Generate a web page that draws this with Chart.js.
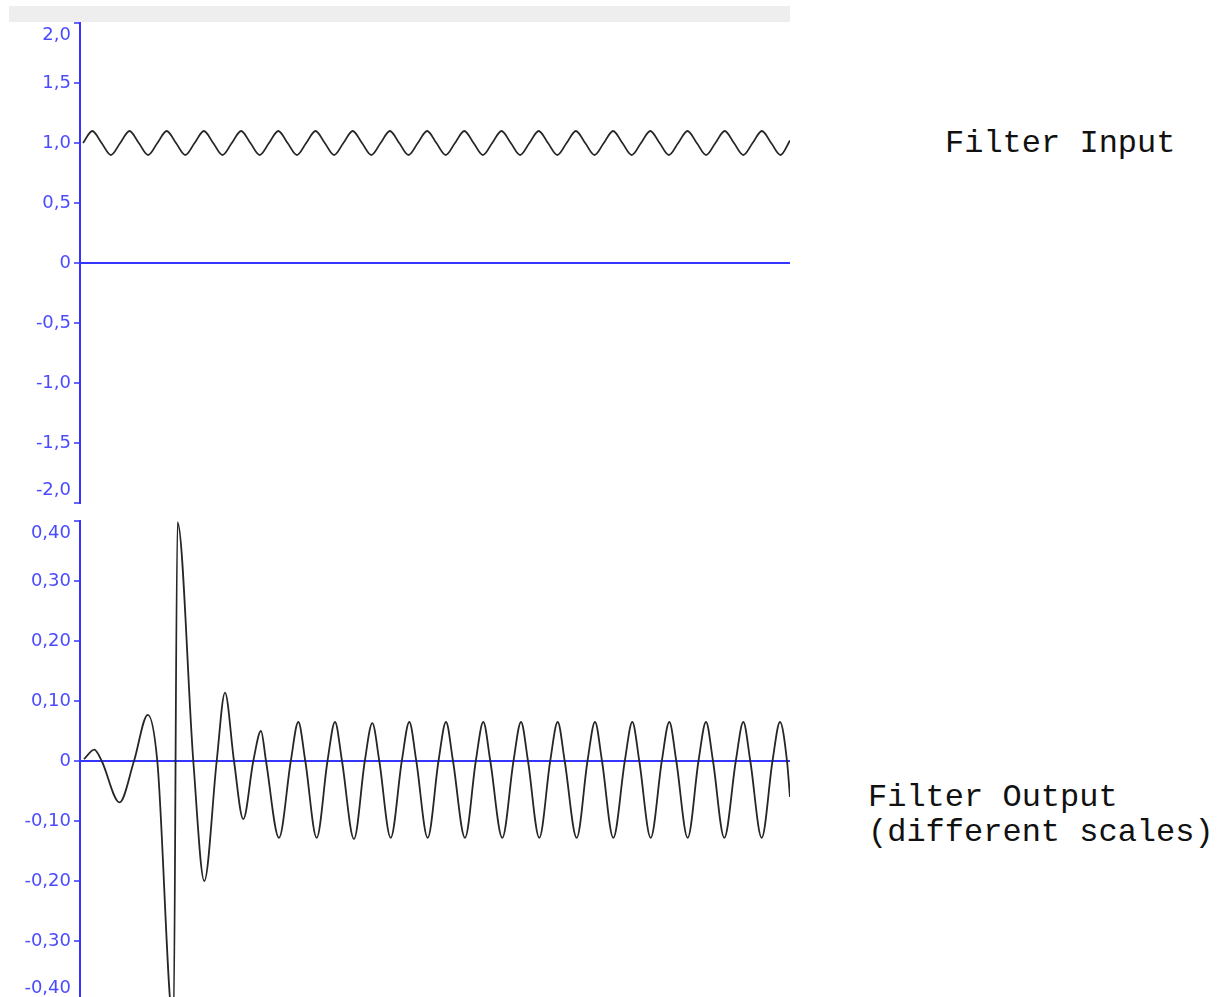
<!DOCTYPE html>
<html>
<head>
<meta charset="utf-8">
<script src="https://cdn.jsdelivr.net/npm/chart.js@4"></script>
<style>
	body { margin: 0; background: #ffffff; overflow: hidden; }
	#bar { position: absolute; left: 9px; top: 6px; width: 781px; height: 16px; background: #eeeeee; }
	canvas { position: absolute; left: 0; }
	#input { top: 0; }
	#output { top: 510px; }
	.caption { position: absolute; font-family: "Liberation Mono", monospace; font-size: 32px; line-height: 35px; color: #111111; white-space: pre; }
</style>
</head>
<body>
<div id="bar"></div>
<canvas id="input" width="790" height="510"></canvas>
<canvas id="output" width="790" height="500"></canvas>
<div class="caption" style="left:945px; top:126px;">Filter Input</div>
<div class="caption" style="left:868px; top:780px;">Filter Output
(different scales)</div>

<script>
// sample position (n) and value
const inputSample = [3.0, 12.3, 21.6, 30.9, 40.2, 49.5, 58.8, 68.1, 77.4, 86.7, 96.0, 105.3, 114.6, 123.9, 133.2, 142.5, 151.8, 161.1, 170.4, 179.7, 189.0, 198.3, 207.6, 216.9, 226.2, 235.5, 244.8, 254.1, 263.4, 272.7, 282.0, 291.3, 300.6, 309.9, 319.2, 328.5, 337.8, 347.1, 356.4, 365.7, 375.0, 384.3, 393.6, 402.9, 412.2, 421.5, 430.8, 440.1, 449.4, 458.7, 468.0, 477.3, 486.6, 495.9, 505.2, 514.5, 523.8, 533.1, 542.4, 551.7, 561.0, 570.3, 579.6, 588.9, 598.2, 607.5, 616.8, 626.1, 635.4, 644.7, 654.0, 663.3, 672.6, 681.9, 691.2, 700.5, 710.0];
const inputValue = [1.0, 1.1, 1.0, 0.9, 1.0, 1.1, 1.0, 0.9, 1.0, 1.1, 1.0, 0.9, 1.0, 1.1, 1.0, 0.9, 1.0, 1.1, 1.0, 0.9, 1.0, 1.1, 1.0, 0.9, 1.0, 1.1, 1.0, 0.9, 1.0, 1.1, 1.0, 0.9, 1.0, 1.1, 1.0, 0.9, 1.0, 1.1, 1.0, 0.9, 1.0, 1.1, 1.0, 0.9, 1.0, 1.1, 1.0, 0.9, 1.0, 1.1, 1.0, 0.9, 1.0, 1.1, 1.0, 0.9, 1.0, 1.1, 1.0, 0.9, 1.0, 1.1, 1.0, 0.9, 1.0, 1.1, 1.0, 0.9, 1.0, 1.1, 1.0, 0.9, 1.0, 1.1, 1.0, 0.9, 1.02];

// sample position (n) and value (peaks, troughs, zero crossings)
const outputSample = [4, 14.3, 21.7, 39.5, 54, 67.8, 77.3, 93.5, 97.5, 113.3, 124.3, 136.7, 145, 154, 163.3, 173.3, 181, 186, 199,
	210.8, 218.3, 225.3, 236.7, 247.5, 255, 262, 274, 284.8, 292.3, 299.3, 310.7, 321.8, 329.3, 336.3, 347.7,
	358.5, 366, 373, 385, 395.8, 403.3, 410.3, 422.3, 433.5, 441, 448, 459.3, 470.2, 477.7, 484.7, 496.7,
	507.5, 515, 522, 533.3, 544.8, 552.3, 559.3, 570.7, 581.8, 589.3, 596.3, 607.7, 618.5, 626, 633, 644.3,
	655.8, 663.3, 670.3, 681.7, 692.5, 700, 707, 710];
const outputValue = [0.003, 0.019, 0, -0.069, 0, 0.077, 0, -0.44, 0.398, 0, -0.20, 0, 0.114, 0, -0.097, 0, 0.05, 0, -0.128,
	0, 0.065, 0, -0.128, 0, 0.065, 0, -0.13, 0, 0.063, 0, -0.128, 0, 0.065, 0, -0.128,
	0, 0.065, 0, -0.128, 0, 0.065, 0, -0.128, 0, 0.065, 0, -0.128, 0, 0.065, 0, -0.128,
	0, 0.065, 0, -0.128, 0, 0.065, 0, -0.128, 0, 0.065, 0, -0.128, 0, 0.065, 0, -0.128,
	0, 0.065, 0, -0.128, 0, 0.065, 0, -0.06];

// tick values and their printed labels
const inputTicks = [-2, -1.5, -1, -0.5, 0, 0.5, 1, 1.5, 2];
const inputTickLabels = ['-2,0', '-1,5', '-1,0', '-0,5', '0', '0,5', '1,0', '1,5', '2,0'];
const outputTicks = [-0.4, -0.3, -0.2, -0.1, 0, 0.1, 0.2, 0.3, 0.4];
const outputTickLabels = ['-0,40', '-0,30', '-0,20', '-0,10', '0', '0,10', '0,20', '0,30', '0,40'];

const axisBlue = '#3535ff';
const labelBlue = '#4a4aff';

function to_points(xs, ys) {
	let pts = [];
	for (let i = 0; i < xs.length; i++) {
		pts.push({ x: xs[i], y: ys[i] });
	}
	return pts;
}

function make_config(xs, ys, ticks, labels, padding) {
	const lo = ticks[0];
	const hi = ticks[ticks.length - 1];
	return {
		type: 'line',
		data: {
			datasets: [{
				data: to_points(xs, ys),
				borderColor: '#262626',
				borderWidth: 1.8,
				pointRadius: 0,
				cubicInterpolationMode: 'monotone',
				fill: false,
			}],
		},
		options: {
			responsive: false,
			animation: false,
			devicePixelRatio: 1,
			layout: { padding: padding },
			plugins: {
				legend: { display: false },
				tooltip: { enabled: false },
			},
			scales: {
				x: { type: 'linear', min: 0, max: 710, display: false },
				y: {
					min: lo,
					max: hi,
					afterFit: (scale) => {
						scale.width = 80;
						scale.paddingTop = 0;
						scale.paddingBottom = 0;
					},
					afterBuildTicks: (scale) => {
						scale.ticks = ticks.map((v) => ({ value: v }));
					},
					border: { color: axisBlue, width: 2 },
					grid: {
						color: (ctx) => (ctx.tick && Math.abs(ctx.tick.value) < 1e-9 ? axisBlue : 'rgba(0,0,0,0)'),
						lineWidth: 2,
						tickColor: axisBlue,
						tickLength: 6,
						tickWidth: 1.5,
					},
					ticks: {
						color: labelBlue,
						padding: 3,
						font: { family: 'DejaVu Sans', size: 18, lineHeight: 1.4 },
						callback: (value) => {
							// first and last labels sit inside the axis ends
							let idx = 0;
							for (let i = 0; i < ticks.length; i++) {
								if (Math.abs(ticks[i] - value) < 1e-9) idx = i;
							}
							const txt = labels[idx];
							if (idx == ticks.length - 1) return ['', txt];
							if (idx == 0) return [txt, ''];
							return txt;
						},
					},
				},
			},
		},
	};
}

const inputChart = new Chart(
	document.getElementById('input'),
	make_config(inputSample, inputValue, inputTicks, inputTickLabels, { top: 23, bottom: 7, left: 0, right: 0 })
);

const outputChart = new Chart(
	document.getElementById('output'),
	make_config(outputSample, outputValue, outputTicks, outputTickLabels, { top: 11, bottom: 9, left: 0, right: 0 })
);
</script>
</body>
</html>
